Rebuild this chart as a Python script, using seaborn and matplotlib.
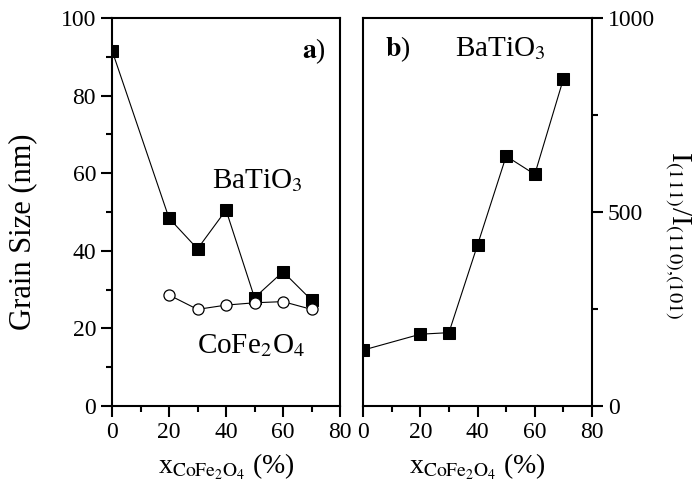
import matplotlib
matplotlib.use('Agg')
import matplotlib.pyplot as plt
from matplotlib.ticker import MultipleLocator
import seaborn as sns
import pandas as pd

# data
x_bto = [0, 20, 30, 40, 50, 60, 70]
grain_bto = [91.6, 48.4, 40.5, 50.5, 27.9, 34.6, 27.3]
x_cfo = [20, 30, 40, 50, 60, 70]
grain_cfo = [28.6, 24.9, 26.0, 26.6, 26.9, 24.9]
ratio_bto = [144, 185, 189, 415, 644, 597, 843]

sns.set_style('ticks')
plt.rcParams['font.family'] = ['Liberation Serif', 'DejaVu Serif']
plt.rcParams['mathtext.fontset'] = 'stix'
plt.rcParams['axes.linewidth'] = 1.5
for k in ['text.color', 'axes.labelcolor', 'xtick.color', 'ytick.color',
          'axes.edgecolor']:
    plt.rcParams[k] = 'black'

fig = plt.figure(figsize=(6.96, 4.93), dpi=100)
ax1 = fig.add_axes([0.161, 0.1765, 0.3275, 0.787])
ax2 = fig.add_axes([0.5216, 0.1765, 0.329, 0.787])

df_a = pd.DataFrame({'x': x_bto, 'y': grain_bto})
df_b = pd.DataFrame({'x': x_cfo, 'y': grain_cfo})
df_c = pd.DataFrame({'x': x_bto, 'y': ratio_bto})

sns.lineplot(data=df_a, x='x', y='y', ax=ax1, color='black', lw=0.8,
             marker='s', markersize=8, markerfacecolor='black',
             markeredgecolor='black', zorder=3)
sns.lineplot(data=df_b, x='x', y='y', ax=ax1, color='black', lw=0.8,
             marker='o', markersize=8, markerfacecolor='white',
             markeredgecolor='black', markeredgewidth=0.9, zorder=4)
sns.lineplot(data=df_c, x='x', y='y', ax=ax2, color='black', lw=0.8,
             marker='s', markersize=8, markerfacecolor='black',
             markeredgecolor='black', zorder=3)

xlab = r'x$_{\mathrm{CoFe_2O_4}}$ (%)'
for ax in (ax1, ax2):
    ax.set_xlim(0, 80)
    ax.xaxis.set_major_locator(MultipleLocator(20))
    ax.xaxis.set_minor_locator(MultipleLocator(10))
    ax.set_xlabel(xlab, fontsize=20, labelpad=6)
    for sp in ax.spines.values():
        sp.set_visible(True)
        sp.set_linewidth(1.5)
        sp.set_color('black')

ax1.set_ylim(0, 100)
ax1.yaxis.set_major_locator(MultipleLocator(20))
ax1.yaxis.set_minor_locator(MultipleLocator(10))
ax1.tick_params(which='both', direction='out', width=1.5, labelsize=17,
                top=False, right=False, colors='black')
ax1.tick_params(which='major', length=8)
ax1.tick_params(which='minor', length=4.5)
ax1.set_ylabel('Grain Size (nm)', fontsize=22)
ax1.yaxis.label.set_va('center')
ax1.yaxis.set_label_coords(-0.39, 0.45)

ax2.set_ylim(0, 1000)
ax2.yaxis.set_major_locator(MultipleLocator(500))
ax2.yaxis.set_minor_locator(MultipleLocator(250))
ax2.yaxis.tick_right()
ax2.yaxis.set_label_position('right')
ax2.tick_params(which='both', direction='out', width=1.5, labelsize=17,
                top=False, left=False, right=True, labelright=True,
                labelleft=False, colors='black')
ax2.tick_params(which='major', length=8)
ax2.tick_params(which='minor', length=4.5)
ax2.set_ylabel(r'I$_{(111)}$/I$_{(110){,}(101)}$', fontsize=21, rotation=270)
ax2.yaxis.label.set_va('center')
ax2.yaxis.set_label_coords(1.37, 0.44)

ax1.text(66.5, 91.5, r'$\mathbf{a}$)', fontsize=20, va='center', ha='left')
ax1.text(35, 58, r'BaTiO$_3$', fontsize=21, va='center', ha='left')
ax1.text(29.8, 15.5, r'CoFe$_2$O$_4$', fontsize=21, va='center', ha='left')
ax2.text(7.5, 920, r'$\mathbf{b}$)', fontsize=20, va='center', ha='left')
ax2.text(32, 920, r'BaTiO$_3$', fontsize=21, va='center', ha='left')

fig.savefig('out.png', dpi=100)
